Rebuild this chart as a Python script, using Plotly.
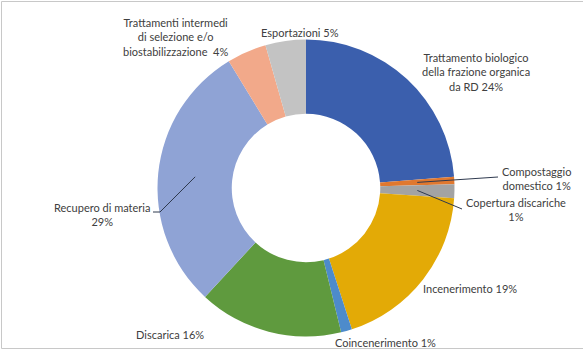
import math
import plotly.graph_objects as go

# ---- data ----
categories = [
    "Trattamento biologico della frazione organica da RD",
    "Compostaggio domestico",
    "Copertura discariche",
    "Incenerimento",
    "Coincenerimento",
    "Discarica",
    "Recupero di materia",
    "Trattamenti intermedi di selezione e/o biostabilizzazione",
    "Esportazioni",
]
values = [23.8, 0.8, 1.5, 18.9, 1.2, 15.7, 29.4, 4.3, 4.4]
label_texts = [
    "Trattamento biologico<br>della frazione organica<br>da RD 24%",
    "Compostaggio<br>domestico 1%",
    "Copertura discariche<br>1%",
    "Incenerimento 19%",
    "Coincenerimento 1%",
    "Discarica 16%",
    "Recupero di materia<br>29%",
    "Trattamenti intermedi<br>di selezione e/o<br>biostabilizzazione  4%",
    "Esportazioni 5%",
]
colors = ["#3B5FAD", "#E0782F", "#A3A3A3", "#E3AA06", "#4D8BCB",
          "#5F9A3E", "#8FA3D5", "#F2A98A", "#C3C3C3"]

# ---- layout helpers (pixels -> paper) ----
W, H = 583, 353
CX, CY, R = 306, 188, 148.5


def px(x):
    return x / W


def py(y):
    return 1 - y / H


# label centre positions (pixels)
label_pos = [
    (476, 72), (536, 178), (516, 210), (470, 288), (385, 342),
    (170, 334), (102, 214), (175, 37), (300, 33),
]
# leader line outer ends (pixels) for selected categories
leader_ends = {
    1: [(498, 177)],
    2: [(462, 209)],
    6: [(160, 212), (153, 212)],
}

fig = go.Figure(
    go.Pie(
        labels=categories,
        values=values,
        hole=0.5,
        sort=False,
        direction="clockwise",
        rotation=0,
        marker=dict(colors=colors, line=dict(width=0)),
        textinfo="none",
        showlegend=False,
        domain=dict(x=[px(CX - R), px(CX + R)], y=[py(CY + R), py(CY - R)]),
    )
)

total = sum(values)
annotations = []
shapes = []
cum = 0.0
for i, v in enumerate(values):
    mid = (cum + v / 2) / total * 2 * math.pi
    cum += v
    lx, ly = label_pos[i]
    annotations.append(dict(
        x=px(lx), y=py(ly), xref="paper", yref="paper",
        text=label_texts[i], showarrow=False,
        xanchor="center", yanchor="middle", align="center",
        font=dict(family="Lato", size=11, color="#404040"),
    ))
    if i in leader_ends:
        r = 0.75 * R
        sx = CX + r * math.sin(mid)
        sy = CY - r * math.cos(mid)
        pts = [(sx, sy)] + leader_ends[i]
        for (x0, y0), (x1, y1) in zip(pts[:-1], pts[1:]):
            shapes.append(dict(
                type="line", xref="paper", yref="paper",
                x0=px(x0), y0=py(y0), x1=px(x1), y1=py(y1),
                line=dict(color="#2F3A4F", width=1),
            ))

# outer border
shapes.append(dict(
    type="rect", xref="paper", yref="paper",
    x0=px(1.5), y0=py(348.5), x1=px(590), y1=py(1.5),
    line=dict(color="#C8C8C8", width=1), fillcolor="rgba(0,0,0,0)",
))

fig.update_layout(
    width=W, height=H,
    margin=dict(l=0, r=0, t=0, b=0),
    paper_bgcolor="white",
    plot_bgcolor="white",
    annotations=annotations,
    shapes=shapes,
)

fig.write_html("out.html")
